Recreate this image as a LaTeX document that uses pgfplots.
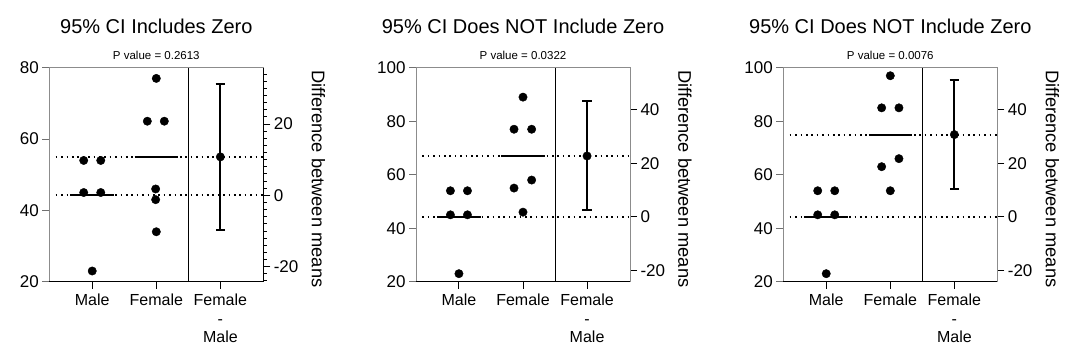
\documentclass[border=0pt]{standalone}
\usepackage{fontspec}
\setmainfont{Liberation Sans}
\usepackage{pgfplots}
\pgfplotsset{compat=1.18}
\definecolor{spine}{gray}{0.55}
\pgfplotsset{
  base/.style={scale only axis, width=214pt, height=214pt, xmin=-0.67, xmax=2.67,
    anchor=south west, clip=false,
    /pgf/number format/assume math mode=true,
    tick align=outside, major tick length=7pt,
    every tick/.style={line width=1pt},
    tick label style={font=\fontsize{17}{19}\selectfont},
  },
  leftax/.style={base, axis x line*=bottom, axis y line*=left,
    axis line style={draw=none},
    xtick={0,1,2}, xticklabels={Male,Female,{Female\\-\\Male}},
    xticklabel style={align=center, yshift=-2pt, font=\fontsize{16}{18.3}\selectfont},
    x tick style={black},
    y tick style={spine!80!black},
  },
  rightax/.style={base, axis x line=none, axis y line*=right,
    ymin=-24.2, y axis line style={line width=1pt},
    y tick style={black},
  },
  dots/.style={only marks, mark=*, mark size=4.2pt, black},
  meanln/.style={black, line width=2pt},
  dotln/.style={black, line width=2pt, dash pattern=on 1.6pt off 3.8pt},
  diffpt/.style={black, mark=*, mark size=4.2pt, mark options={line width=0.4pt},
    error bars/.cd, y dir=both, y explicit,
    error bar style={line width=1.8pt},
    error mark options={rotate=90, mark size=4.7pt, line width=2pt}},
}
\newcommand{\frameit}{%
  \draw[spine, line width=1pt] (rel axis cs:0,0) -- (rel axis cs:0,1) -- (rel axis cs:1,1) -- (rel axis cs:1,0);
  \draw[black, line width=1pt] (rel axis cs:0,0) -- (rel axis cs:1,0);
}
\newcommand{\titles}[2]{%
  \node[anchor=base, font=\fontsize{20}{24}\selectfont] at ([yshift=34.4pt]rel axis cs:0.5,1) {#1};
  \node[anchor=base, font=\fontsize{11.5}{13}\selectfont] at ([yshift=8.7pt]rel axis cs:0.5,1) {#2};
  \node[rotate=-90, font=\fontsize{18.3}{20}\selectfont] at ([xshift=55pt,yshift=-4pt]rel axis cs:1,0.5) {Difference between means};
}
\begin{document}
\begin{tikzpicture}
\useasboundingbox (0pt,0pt) rectangle (1080pt,360pt);

% ---------- Panel 1 ----------
\begin{axis}[leftax, at={(49.3pt,78.3pt)}, ymin=20, ymax=80, ytick={20,40,60,80}]
  \frameit
  \titles{95\% CI Includes Zero}{P value = 0.2613}
  \addplot[black, line width=1pt] coordinates {(1.5,20) (1.5,80)};
  \addplot[dotln] coordinates {(-0.57,44.2) (2.67,44.2)};
  \addplot[dotln] coordinates {(-0.57,55) (2.67,55)};
  \addplot[meanln] coordinates {(-0.34,44.2) (0.34,44.2)};
  \addplot[meanln] coordinates {(0.66,55) (1.34,55)};
  \addplot[dots] coordinates {(-0.133,54) (0.133,54) (-0.133,45) (0.133,45) (0,23)};
  \addplot[dots] coordinates {(1,77) (0.86,65) (1.125,65) (0.99,46) (0.99,43) (1,34)};
\end{axis}
\begin{axis}[rightax, at={(49.3pt,78.3pt)}, ymax=35.8, ytick={-20,0,20},
  y axis line style={black}]
  \pgfplotsinvokeforeach{-24,-22,...,34}{
    \draw[black, line width=1pt] (axis cs:2.67,#1) -- ++(4pt,0pt);
  }
  \addplot[diffpt] coordinates {(2,10.8) += (0,20.38) -= (0,20.38)};
\end{axis}

% ---------- Panel 2 ----------
\begin{axis}[leftax, at={(416pt,78.3pt)}, ymin=20, ymax=100, ytick={20,40,60,80,100}]
  \frameit
  \titles{95\% CI Does NOT Include Zero}{P value = 0.0322}
  \addplot[black, line width=1pt] coordinates {(1.5,20) (1.5,100)};
  \addplot[dotln] coordinates {(-0.57,44.2) (2.67,44.2)};
  \addplot[dotln] coordinates {(-0.57,67) (2.67,67)};
  \addplot[meanln] coordinates {(-0.34,44.2) (0.34,44.2)};
  \addplot[meanln] coordinates {(0.66,67) (1.34,67)};
  \addplot[dots] coordinates {(-0.133,54) (0.133,54) (-0.133,45) (0.133,45) (0,23)};
  \addplot[dots] coordinates {(1,89) (0.86,77) (1.135,77) (1.135,58) (0.86,55) (1,46)};
\end{axis}
\begin{axis}[rightax, at={(416pt,78.3pt)}, ymax=55.8, ytick={-20,0,20,40},
  y axis line style={spine}]
  \addplot[diffpt] coordinates {(2,22.8) += (0,20.38) -= (0,20.38)};
\end{axis}

% ---------- Panel 3 ----------
\begin{axis}[leftax, at={(783.3pt,78.3pt)}, ymin=20, ymax=100, ytick={20,40,60,80,100}]
  \frameit
  \titles{95\% CI Does NOT Include Zero}{P value = 0.0076}
  \addplot[black, line width=1pt] coordinates {(1.5,20) (1.5,100)};
  \addplot[dotln] coordinates {(-0.57,44.2) (2.67,44.2)};
  \addplot[dotln] coordinates {(-0.57,75) (2.67,75)};
  \addplot[meanln] coordinates {(-0.34,44.2) (0.34,44.2)};
  \addplot[meanln] coordinates {(0.66,75) (1.34,75)};
  \addplot[dots] coordinates {(-0.133,54) (0.133,54) (-0.133,45) (0.133,45) (0,23)};
  \addplot[dots] coordinates {(1,97) (0.865,85) (1.135,85) (1.135,66) (0.865,63) (1,54)};
\end{axis}
\begin{axis}[rightax, at={(783.3pt,78.3pt)}, ymax=55.8, ytick={-20,0,20,40},
  y axis line style={spine}]
  \addplot[diffpt] coordinates {(2,30.8) += (0,20.38) -= (0,20.38)};
\end{axis}
\end{tikzpicture}
\end{document}
